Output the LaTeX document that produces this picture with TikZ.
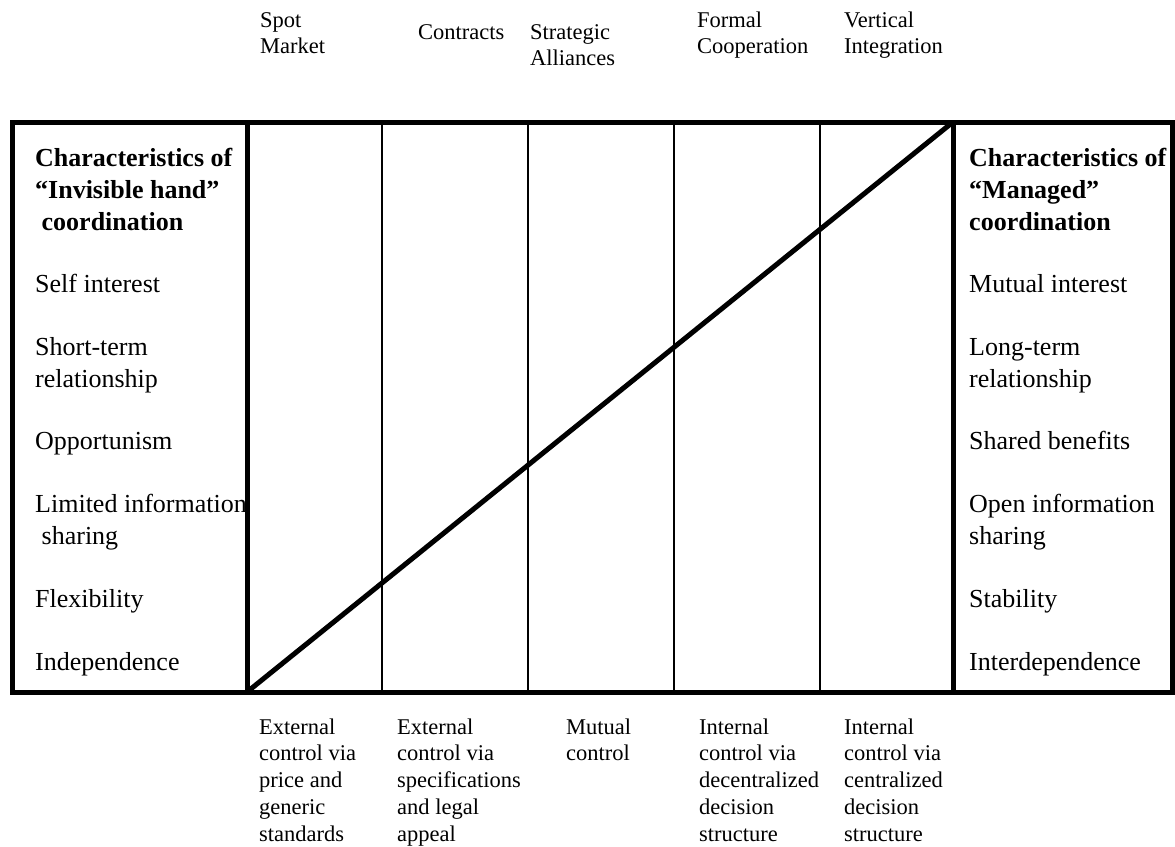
\documentclass[tikz,border=0pt]{standalone}
\usepackage{fontspec}
\setmainfont{Liberation Serif}
\begin{document}
\begin{tikzpicture}[x=1pt,y=-1pt]
	\tikzset{item/.style={anchor=base west, inner sep=0pt, font=\fontsize{26}{31.5}\selectfont},
		head/.style={item, font=\fontsize{26}{31.5}\selectfont\bfseries},
		lbl/.style={anchor=base west, inner sep=0pt, font=\fontsize{22.5}{26.75}\selectfont},
		frame/.style={line width=5pt},
		divider/.style={line width=1.2pt}}
	\useasboundingbox (0,0) rectangle (1175,846);
	
	% arrangements on top
	\foreach \x/\y/\lst [count=\c] in {260/27/{Spot,Market}, 418/39/{Contracts}, 530/39/{Strategic,Alliances},
		697/27/{Formal,Cooperation}, 844/27/{Vertical,Integration}}
	\foreach \t [count=\i] in \lst
	\node[lbl] (top\c-\i) at (\x,\y+26.75*\i-26.75) {\t};
	
	% left column
	\node[head] (lh1) at (35,166) {Characteristics of};
	\node[head] (lh2) at (35,198) {“Invisible hand”};
	\node[head] (lh3) at (35,230) {\ coordination};
	\node[item] (l1) at (35,292) {Self interest};
	\node[item] (l2) at (35,355) {Short-term};
	\node[item] (l3) at (35,387) {relationship};
	\node[item] (l4) at (35,449) {Opportunism};
	\node[item] (l5) at (35,512) {Limited information};
	\node[item] (l6) at (35,544) {\ sharing};
	\node[item] (l7) at (35,607) {Flexibility};
	\node[item] (l8) at (35,670) {Independence};
	
	% right column
	\node[head] (rh1) at (969,166) {Characteristics of};
	\node[head] (rh2) at (969,198) {“Managed”};
	\node[head] (rh3) at (969,230) {coordination};
	\node[item] (r1) at (969,292) {Mutual interest};
	\node[item] (r2) at (969,355) {Long-term};
	\node[item] (r3) at (969,387) {relationship};
	\node[item] (r4) at (969,449) {Shared benefits};
	\node[item] (r5) at (969,512) {Open information};
	\node[item] (r6) at (969,544) {sharing};
	\node[item] (r7) at (969,607) {Stability};
	\node[item] (r8) at (969,670) {Interdependence};
	
	% control types below
	\foreach \x/\lst [count=\c] in {259/{External,control via,price and,generic,standards},
		397/{External,control via,specifications,and legal,appeal},
		566/{Mutual,control},
		699/{Internal,control via,decentralized,decision,structure},
		844/{Internal,control via,centralized,decision,structure}}
	\foreach \t [count=\i] in \lst
	\node[lbl] (bot\c-\i) at (\x,734+26.75*\i-26.75) {\t};
	
	% the frame
	\coordinate (lo) at (247,692);
	\coordinate (hi) at (953,122);
	\draw[frame] (12,122) rectangle (1172.5,692);
	\draw[frame] (247,122) -- (lo);
	\draw[frame] (hi) -- (953,692);
	\foreach \x in {382,528,674,820}
	\draw[divider] (\x,122) -- (\x,692);
	\draw[frame] (lo) -- (hi);
	
\end{tikzpicture}
\end{document}
